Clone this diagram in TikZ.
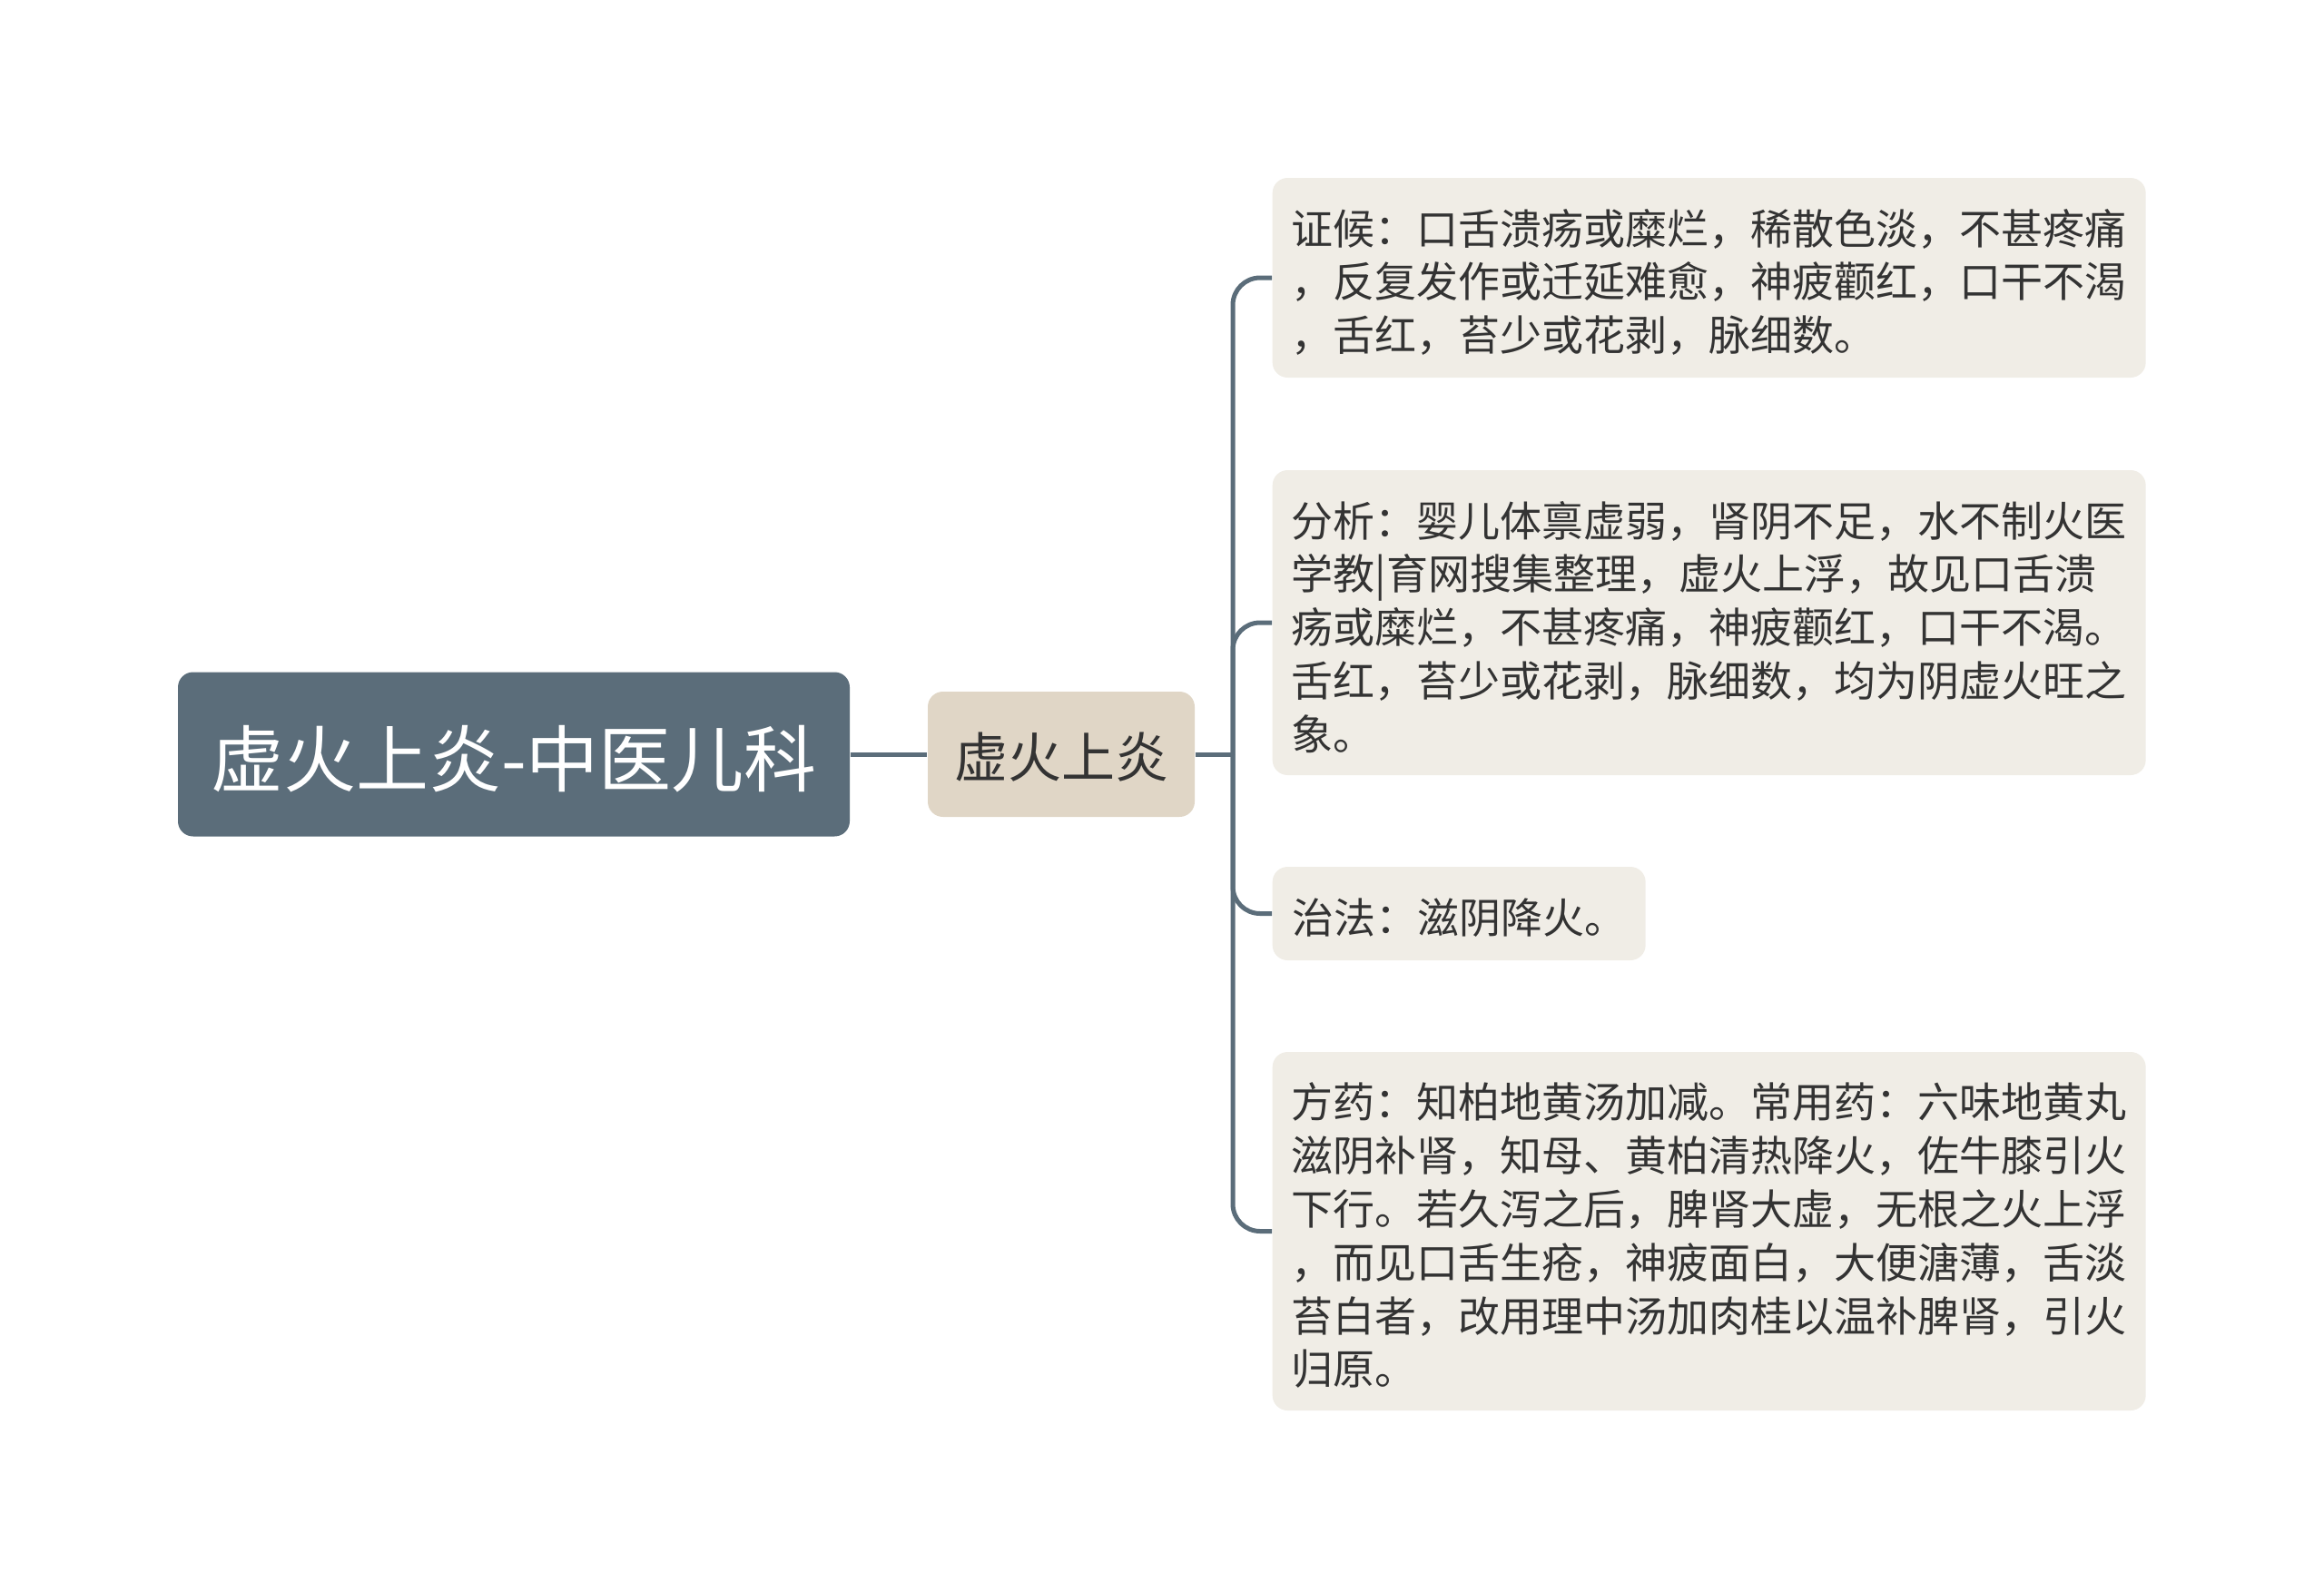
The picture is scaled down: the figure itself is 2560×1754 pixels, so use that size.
\documentclass[tikz,border=0pt]{standalone}
\usepackage{fontspec}
\newfontfamily\cjk{Noto Sans CJK SC}
\definecolor{rootfill}{HTML}{5B6D7A}
\definecolor{midfill}{HTML}{E0D6C6}
\definecolor{leaffill}{HTML}{F0EDE6}
\definecolor{linec}{HTML}{5B6D7A}
\definecolor{txt}{HTML}{333333}
\newcommand\dn[1]{\rule{0pt}{#1}}
\tikzset{
  rootbox/.style={fill=rootfill, rounded corners=5pt, text=white, font=\cjk\fontsize{24}{28}\selectfont, minimum width=222pt, minimum height=54.3pt, inner sep=0pt},
  midbox/.style={fill=midfill, rounded corners=5pt, text=txt, font=\cjk\fontsize{17.7}{21}\selectfont, minimum width=88.2pt, minimum height=41.4pt, inner sep=0pt},
  leafbox/.style={fill=leaffill, rounded corners=5pt, text=txt, font=\cjk\fontsize{13.8}{17.64}\selectfont, align=left, inner xsep=6.3pt, inner ysep=0pt, anchor=west},
  conn/.style={draw=linec, line width=1.5pt}
}
\begin{document}
\begin{tikzpicture}[x=0.3pt,y=-0.3pt]
\useasboundingbox (0,0) rectangle (2560,1754);
\node[rootbox] (root) at (566,831) {\dn{23pt}虚火上炎-中医儿科};
\node[midbox] (mid) at (1169,831) {\dn{17pt}虚火上炎};
\node[leafbox, text width=276pt, minimum height=66pt] (l1) at (1401,306) {\dn{14.6pt}证候：口舌溃疡或糜烂，稀散色淡，不甚疼痛\\，反复发作或迁延难愈，神疲颧红，口干不渴\\，舌红，苔少或花剥，脉细数。};
\node[leafbox, text width=276pt, minimum height=100.8pt] (l2) at (1401,686) {\dn{14.6pt}分析：婴儿体禀虚弱，肾阴不足，水不制火医\\学教|育网搜集整理，虚火上浮，故见口舌溃\\疡或糜烂，不甚疼痛，神疲颧红，口干不渴。\\舌红，苔少或花剥，脉细数，均为阴虚火旺之\\象。};
\node[leafbox, minimum width=123.3pt, minimum height=30.9pt] (l3) at (1401,1006.5) {\dn{14.6pt}治法：滋阴降火。};
\node[leafbox, text width=276pt, minimum height=118.5pt] (l4) at (1401,1356.5) {\dn{14.6pt}方药：知柏地黄汤加减。常用药：六味地黄丸\\滋阴补肾，知母、黄柏清热降火，佐牛膝引火\\下行。若久泻之后，脾肾大虚，无根之火上浮\\，而见口舌生疮，神疲面白，大便溏薄，舌淡\\苔白者，改用理中汤加肉桂以温补脾肾，引火\\归原。};
\coordinate (trunk) at (1358,831);
\draw[conn] (root.east) -- (mid.west);
\draw[conn] (mid.east) -- (trunk);
\foreach \l in {l1,l2,l3,l4}{
  \draw[conn, rounded corners=9pt] (trunk) |- (\l.west);
}
\end{tikzpicture}
\end{document}
